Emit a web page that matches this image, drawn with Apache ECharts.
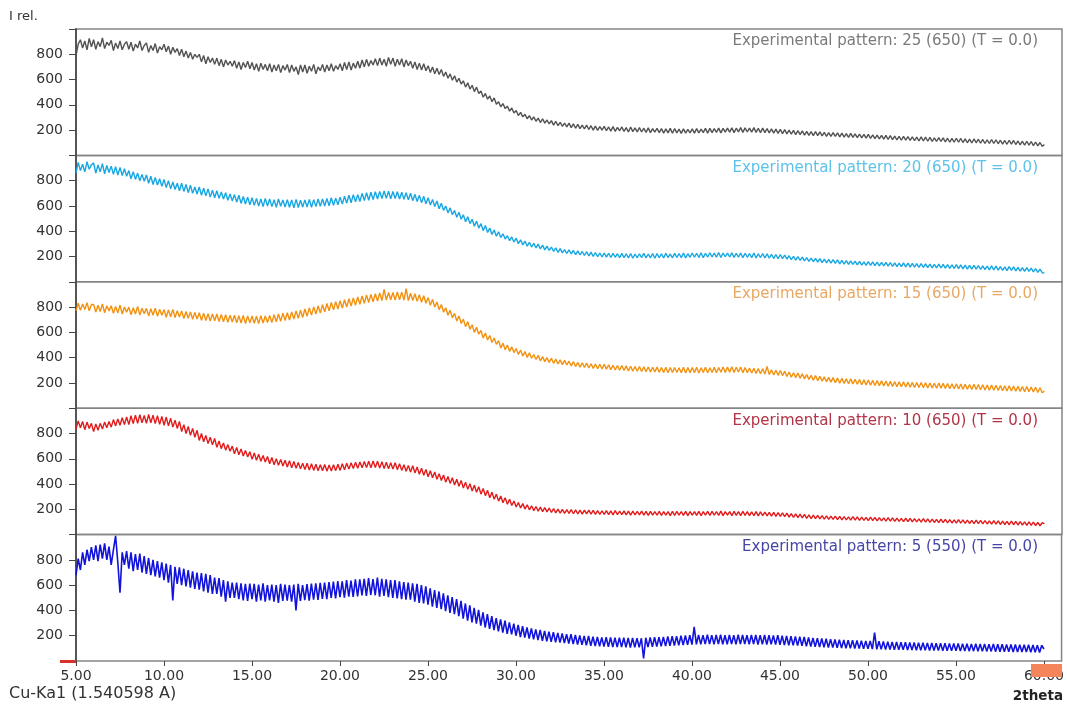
<!DOCTYPE html>
<html>
<head>
<meta charset="utf-8">
<script src="https://cdn.jsdelivr.net/npm/echarts@6/dist/echarts.min.js"></script>
<style>
html,body{margin:0;padding:0;background:#fff;}
#chart{width:1067px;height:709px;}
</style>
</head>
<body>
<div id="chart"></div>
<script>
// 2theta sampling grid (degrees): 5.000 .. 60.000, every 0.125 deg
const thetaStart = 5;
const thetaStep = 0.125;

// Panel titles
const titles = [
  'Experimental pattern: 25 (650) (T = 0.0)',
  'Experimental pattern: 20 (650) (T = 0.0)',
  'Experimental pattern: 15 (650) (T = 0.0)',
  'Experimental pattern: 10 (650) (T = 0.0)',
  'Experimental pattern: 5 (550) (T = 0.0)'
];

// Intensities (one row = one degree, 8 samples)
const pattern25 = [
790,880,915,850,905,835,925,860, 915,840,900,860,930,845,895,870, 910,830,890,845,905,835,880,900,
840,895,825,880,850,905,830,870, 890,815,870,830,885,810,860,835, 880,820,865,800,855,815,845,790,
840,780,825,770,815,760,800,775, 800,740,790,725,780,735,770,720, 770,710,760,700,755,715,745,705,
750,690,740,680,735,695,745,685, 735,675,725,665,730,680,720,670, 725,660,715,670,720,655,710,675,
720,655,715,665,700,640,715,660, 715,650,705,665,720,645,700,670, 720,660,715,670,725,665,710,680,
725,670,735,680,740,675,730,690, 745,690,755,700,760,705,750,715, 765,710,770,715,760,705,775,720,
770,705,760,715,765,700,755,710, 745,690,740,680,730,675,725,670, 710,655,700,645,690,640,680,625,
660,610,645,595,630,580,610,565, 590,540,575,525,555,505,540,490, 510,460,490,445,470,425,455,405,
425,385,410,370,390,350,375,335, 355,315,340,305,325,290,315,280, 305,270,295,260,290,255,280,250,
275,240,270,235,262,230,255,225, 255,220,250,215,245,212,240,210, 240,205,235,200,232,198,228,200,
230,195,225,192,228,190,222,195, 225,190,220,185,224,188,218,186, 220,185,215,182,218,180,212,184,
215,180,212,176,210,178,214,175, 212,178,208,174,210,176,206,178, 210,176,212,178,208,180,214,176,
214,180,212,182,216,178,214,184, 216,184,218,180,215,186,220,182, 218,185,216,184,220,182,214,180,
216,180,212,178,210,176,208,174, 206,172,204,170,200,168,198,164, 196,164,194,160,190,158,188,156,
188,156,186,154,182,150,180,150, 180,150,178,146,176,144,172,142, 174,142,170,140,168,138,166,136,
166,134,162,132,160,130,158,128, 158,126,156,124,152,122,150,120, 150,120,148,118,146,116,144,114,
146,114,144,112,142,110,138,110, 140,110,138,106,136,104,134,104, 136,104,134,102,130,100,128,98,
130,100,128,96,126,94,124,94, 126,94,124,92,120,90,118,88, 120,90,118,86,114,84,112,82,
112,82,110,78,106,76,102,72,
85];

const pattern20 = [
860,945,880,930,870,950,890,925, 940,860,925,870,935,855,920,865, 915,850,910,845,905,840,895,835,
880,815,870,810,860,800,850,795, 845,780,835,770,825,765,815,755, 810,745,800,735,790,730,780,720,
780,715,770,705,765,700,750,695, 750,685,740,680,735,670,725,665, 720,660,710,655,705,645,695,640,
690,630,685,620,675,615,670,610, 665,605,660,600,655,595,660,600, 655,595,650,590,655,598,648,592,
650,590,648,585,652,588,645,592, 648,592,652,590,650,595,655,598, 655,600,660,602,665,605,662,610,
670,615,678,622,685,625,690,632, 690,635,700,642,705,645,708,650, 712,655,715,658,718,660,716,656,
714,658,712,655,708,652,704,648, 700,642,692,635,684,626,676,618, 665,608,652,595,640,578,622,565,
600,545,585,530,565,510,550,495, 530,475,515,460,495,440,480,425, 460,405,445,390,425,375,410,360,
395,350,380,338,365,325,355,315, 345,302,332,292,322,282,312,275, 305,268,298,260,290,252,282,248,
275,240,268,232,262,228,255,224, 252,220,248,215,244,212,240,208, 238,205,235,200,232,198,228,196,
228,195,226,192,225,194,222,190, 225,190,222,188,224,186,220,190, 222,192,225,188,220,190,224,186,
224,190,222,188,226,192,220,190, 225,192,224,190,228,188,222,194, 228,194,226,192,230,190,226,196,
230,196,228,194,232,192,228,198, 228,196,230,192,226,194,228,190, 226,194,224,190,228,188,222,192,
224,188,222,186,218,184,216,182, 216,184,212,180,206,176,202,172, 200,170,196,166,192,162,188,160,
186,156,184,152,180,150,178,148, 176,146,174,142,170,140,168,138, 166,138,164,134,162,132,158,130,
160,130,158,128,156,126,154,126, 154,124,152,122,150,120,148,120, 150,118,148,116,146,116,144,114,
144,114,142,112,140,110,138,110, 140,110,138,108,136,106,134,106, 136,104,134,102,132,100,130,100,
130,100,128,98,126,96,124,94, 126,94,124,92,120,90,118,88, 120,90,118,86,114,84,112,82,
112,82,108,78,104,74,100,72,
70];

const pattern15 = [
770,830,775,825,780,835,770,820, 820,760,815,765,825,755,810,770, 810,750,805,755,815,745,800,760,
800,740,795,745,805,738,790,748, 790,730,788,735,792,728,782,736, 780,720,778,724,782,718,772,722,
770,710,765,712,762,704,758,706, 755,696,752,694,748,690,746,692, 745,686,742,684,740,680,736,682,
735,676,732,674,734,670,730,675, 730,672,728,670,732,674,730,678, 734,678,740,684,745,688,752,694,
755,698,762,706,770,712,776,718, 785,728,794,736,802,744,810,752, 820,762,828,770,836,778,842,785,
850,792,858,800,866,808,872,815, 880,822,888,830,895,836,900,842, 905,848,912,852,940,856,915,858,
915,856,920,858,918,855,945,852, 910,852,905,845,898,838,890,830, 875,815,860,800,840,780,820,760,
795,735,775,715,750,690,730,670, 705,645,685,625,660,600,640,585, 615,555,595,540,575,520,555,505,
535,475,515,462,500,450,485,440, 472,425,460,412,448,402,438,395, 425,385,418,375,408,368,400,362,
395,355,388,350,382,345,378,342, 372,335,368,330,362,325,360,322, 358,318,352,315,350,312,348,310,
348,308,344,305,340,302,338,300, 338,298,335,295,332,292,330,292, 330,290,328,288,326,286,324,286,
325,284,322,282,324,280,322,282, 322,282,320,280,324,278,322,280, 322,280,324,278,320,282,324,280,
320,282,324,280,322,284,326,282, 325,284,328,282,324,286,326,280, 322,280,318,278,316,274,314,272,
312,270,330,266,304,262,300,260, 298,258,292,252,286,246,280,242, 278,238,272,232,266,228,260,222,
258,218,252,214,248,210,244,206, 242,202,238,198,236,196,232,194, 232,192,228,190,226,186,224,184,
222,182,220,180,218,178,216,176, 215,174,212,172,210,170,208,170, 208,168,206,166,204,164,204,164,
204,162,202,160,200,160,198,158, 200,158,198,156,196,154,194,154, 194,152,192,150,190,150,188,148,
190,148,188,146,186,144,184,142, 184,142,182,140,180,138,178,136, 178,136,176,134,174,132,172,130,
172,130,168,128,166,124,162,122,
135];

const pattern10 = [
835,900,845,895,830,890,840,880, 815,875,825,880,835,890,845,895, 850,910,860,915,865,925,870,930,
870,940,878,945,880,948,885,942, 880,950,885,945,878,940,872,935, 865,930,860,920,850,905,840,895,
815,870,800,855,785,840,770,825, 745,800,735,785,720,770,710,760, 690,740,680,725,668,712,660,700,
640,690,632,678,622,666,615,656, 595,645,588,635,580,625,575,618, 560,610,552,600,548,594,542,588,
535,585,528,578,524,570,520,565, 515,565,510,560,508,556,505,552, 505,555,502,550,504,552,506,556,
508,560,512,565,518,568,522,572, 525,575,528,578,530,580,528,582, 530,580,526,576,522,572,520,568,
518,568,514,560,508,552,502,546, 495,545,488,535,478,525,470,515, 458,505,450,495,438,482,428,472,
415,460,405,450,392,438,382,428, 368,415,358,402,345,390,335,378, 320,365,308,350,292,336,280,320,
265,305,252,292,240,280,230,266, 218,254,210,245,202,236,196,228, 190,222,186,218,182,214,180,210,
175,206,172,202,170,200,168,198, 168,198,165,196,164,194,162,194, 164,194,162,192,160,190,160,188,
160,190,158,188,156,190,158,186, 158,188,156,186,154,186,156,184, 156,186,154,184,152,184,154,182,
154,184,152,182,154,182,150,184, 152,184,154,182,152,184,150,182, 154,182,152,184,150,182,154,184,
152,184,154,182,152,186,150,182, 154,182,150,184,152,182,150,184, 152,182,150,180,150,182,148,180,
150,178,148,176,146,176,144,174, 144,172,142,170,138,166,136,164, 134,162,132,160,128,156,126,154,
126,152,124,150,122,148,120,146, 120,146,118,144,116,142,116,140, 114,142,114,140,112,138,112,136,
110,138,110,136,108,134,108,132, 106,134,106,132,104,130,104,128, 102,130,102,128,100,126,100,124,
98,126,98,124,96,122,96,120, 94,122,94,120,92,118,92,116, 90,118,90,116,88,114,88,112,
86,114,86,112,84,110,84,108, 82,110,82,108,80,106,80,104, 78,106,78,104,76,102,76,100,
74,100,74,98,72,96,70,94,
85];

const pattern5 = [
680,810,720,860,760,880,790,900, 800,915,790,920,810,930,800,905, 760,880,990,780,540,860,760,870,
730,860,710,845,720,850,700,830, 690,815,680,800,670,790,660,780, 640,770,620,760,480,745,610,740,
600,730,590,720,580,710,570,700, 565,695,550,690,540,680,530,660, 530,655,510,640,470,630,500,620,
500,620,490,615,480,610,475,612, 490,610,470,605,480,615,470,600, 480,605,470,600,460,610,475,605,
478,600,470,605,400,610,475,600, 482,608,478,612,486,615,484,618, 492,620,490,625,500,628,496,632,
505,630,502,640,510,636,508,645, 512,645,520,650,515,655,522,648, 520,660,510,650,515,645,505,640,
500,640,495,630,490,625,485,620, 485,615,470,610,460,600,455,590, 445,575,430,560,420,550,410,535,
395,520,380,505,370,490,355,475, 335,455,320,440,305,420,295,405, 280,385,265,370,255,355,245,340,
235,330,225,320,215,305,210,295, 200,285,190,275,185,265,178,258, 172,250,165,245,160,238,156,232,
152,228,148,222,145,218,142,212, 138,212,134,206,130,202,128,198, 125,198,120,192,118,190,116,186,
114,188,112,186,110,185,110,184, 110,184,108,182,106,182,108,180, 108,180,20,184,110,186,112,188,
114,188,116,190,118,194,120,196, 122,196,124,200,126,202,128,204, 130,270,132,206,132,205,134,208,
134,205,132,206,134,208,132,204, 132,206,134,204,132,208,134,206, 134,204,132,206,134,206,130,205,
132,206,130,204,132,202,130,204, 128,200,126,198,124,196,124,194, 122,192,120,190,116,186,114,182,
112,180,110,178,108,176,106,172, 106,170,104,168,102,166,100,164, 100,164,98,162,98,160,96,158,
96,158,94,225,92,156,92,154, 90,152,90,150,88,150,88,148, 88,148,86,146,86,146,84,144,
84,144,84,142,82,142,82,140, 82,140,80,140,80,138,80,138, 80,138,78,136,78,136,78,134,
78,136,76,134,76,134,76,132, 76,134,74,132,74,132,74,130, 74,130,72,130,72,128,72,128,
72,128,70,126,70,124,68,124,
95];

const xTickLabels = ['5.00','10.00','15.00','20.00','25.00','30.00','35.00','40.00','45.00','50.00','55.00','60.00'];
const yTickLabels = ['200','400','600','800'];

const patterns = [pattern25, pattern20, pattern15, pattern10, pattern5];
const lineColors = ['#525252', '#16a7e2', '#f2910f', '#e11b1b', '#1212dd'];
const lineWidths = [1.4, 1.4, 1.4, 1.4, 1.6];
const titleColors = ['#7a7a7a', '#5cc2ea', '#e8a864', '#b23448', '#4646a6'];

const FONT = '"DejaVu Sans", "Liberation Sans", Arial, sans-serif';
const panelTop = 29, panelH = 126.4, leftPx = 76, rightPx = 5;

const grids = [], xAxes = [], yAxes = [], series = [], titleArr = [];
for (let p = 0; p < 5; p++) {
  const isBottom = p === 4;
  grids.push({left: leftPx, right: rightPx, top: panelTop + p * panelH, height: panelH,
    show: true, borderColor: '#858585', borderWidth: 1.5, backgroundColor: 'transparent'});
  xAxes.push({
    type: 'value', gridIndex: p, min: 5, max: 61, interval: 5,
    axisLine: {show: false},
    axisTick: {show: isBottom, inside: false, length: 5, lineStyle: {color: '#444'}},
    axisLabel: {show: isBottom, color: '#333', fontSize: 14, fontFamily: FONT, margin: 8,
      showMaxLabel: false,
      formatter: v => { const i = Math.round((v - 5) / 5); return (Math.abs(v - 5 - i*5) < 1e-6 && xTickLabels[i]) ? xTickLabels[i] : ''; }},
    splitLine: {show: false}
  });
  yAxes.push({
    type: 'value', gridIndex: p, min: 0, max: 1000, interval: 200,
    axisLine: {show: true, lineStyle: {color: '#555', width: 2}},
    axisTick: {show: true, length: 7, lineStyle: {color: '#444'}},
    axisLabel: {color: '#333', fontSize: 14, fontFamily: FONT, margin: 13,
      formatter: v => { const i = v / 200 - 1; return Number.isInteger(i) && yTickLabels[i] !== undefined ? yTickLabels[i] : ''; }},
    splitLine: {show: false}
  });
  const vals = patterns[p];
  const data = vals.map((y, i) => [thetaStart + i * thetaStep, y]);
  series.push({
    type: 'line', xAxisIndex: p, yAxisIndex: p, data: data, showSymbol: false,
    lineStyle: {color: lineColors[p], width: lineWidths[p]}, itemStyle: {color: lineColors[p]},
    silent: true, animation: false, clip: true
  });
  titleArr.push({text: titles[p], right: 29, top: panelTop + p * panelH + 5, padding: 0,
    textStyle: {color: titleColors[p], fontSize: 15, fontWeight: 'normal', fontFamily: FONT}});
}

const chart = echarts.init(document.getElementById('chart'), null, {renderer: 'canvas'});
chart.setOption({
  animation: false,
  backgroundColor: '#ffffff',
  title: titleArr,
  grid: grids,
  xAxis: xAxes,
  yAxis: yAxes,
  series: series,
  graphic: [
    {type: 'text', left: 9, top: 10, z: 100, style: {text: 'I rel.', fill: '#333', font: '13px ' + FONT}},
    {type: 'text', left: 9, top: 686, z: 100, style: {text: 'Cu-Ka1 (1.540598 A)', fill: '#333', font: '16px ' + FONT}},
    {type: 'text', right: 4, top: 689, z: 100, style: {text: '2theta', fill: '#222', font: 'bold 13.5px ' + FONT}},
    {type: 'rect', left: 60, top: 660, z: 100, shape: {width: 16, height: 3}, style: {fill: '#d8312b'}},
    {type: 'rect', left: 1031, top: 664, z: 100, shape: {width: 31, height: 13}, style: {fill: '#f4845a'}}
  ]
});
</script>
</body>
</html>
